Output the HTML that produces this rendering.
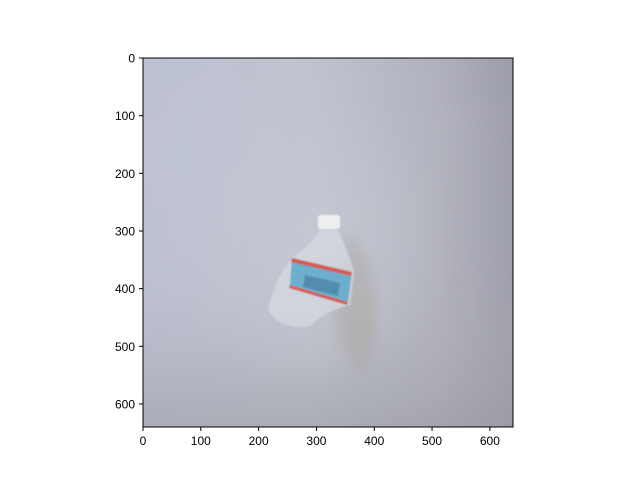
<!DOCTYPE html>
<html><head><meta charset="utf-8"><style>
body{margin:0;width:640px;height:480px;background:#fff;overflow:hidden;font-family:"Liberation Sans",sans-serif}
</style></head><body>
<svg width="640" height="480" viewBox="0 0 640 480">
<defs>
<linearGradient id="gx" x1="0" y1="0" x2="1" y2="0">
<stop offset="0" stop-color="#bcc1d3"/><stop offset="0.45" stop-color="#c0c3cf"/><stop offset="0.8" stop-color="#b0b1bc"/><stop offset="1" stop-color="#9c9da9"/>
</linearGradient>
<linearGradient id="gy" x1="0" y1="0" x2="0" y2="1">
<stop offset="0" stop-color="#fff" stop-opacity="0"/><stop offset="0.6" stop-color="#b8b8be" stop-opacity="0.1"/><stop offset="1" stop-color="#9a9aa0" stop-opacity="0.55"/>
</linearGradient>
<radialGradient id="glow" cx="0.45" cy="0.5" r="0.4">
<stop offset="0" stop-color="#c8cad4" stop-opacity="0.6"/><stop offset="1" stop-color="#c8cad4" stop-opacity="0"/>
</radialGradient>
<filter id="blur"><feGaussianBlur stdDeviation="7"/></filter>
<filter id="b1"><feGaussianBlur stdDeviation="0.7"/></filter>
</defs>
<g>
<rect x="143" y="58" width="370" height="369" fill="url(#gx)"/>
<rect x="143" y="58" width="370" height="369" fill="url(#gy)"/>
<rect x="143" y="58" width="370" height="369" fill="url(#glow)"/>
<path d="M345 232 C368 250 378 290 376 320 C374 345 368 365 360 375 C348 360 338 335 334 310 Z" fill="#9a9480" opacity="0.28" filter="url(#blur)"/>
<g filter="url(#b1)">
<path d="M320 229 L338 230 C345 245 352 262 354 272 L350 305 C330 310 318 318 310 326 C292 330 274 322 268 310 C272 292 280 272 292 258 C305 248 315 240 320 229 Z" fill="#d6d9e0" opacity="0.75"/>
<rect x="318" y="215" width="22" height="14" rx="3" fill="#eef0ef"/>
<path d="M292 258 L352 272 L348 302 L290 285 Z" fill="#5aa9cc" opacity="0.85"/>
<path d="M292 258 L352 272 L351 276 L291 262 Z" fill="#d55a50"/>
<path d="M290 285 L348 302 L347 305 L289 288 Z" fill="#d55a50"/>
<path d="M305 275 L340 283 L338 296 L303 287 Z" fill="#3a6a90" opacity="0.5"/>
</g>
</g>
<rect x="143" y="58" width="370" height="369" fill="none" stroke="#000" stroke-width="1"/>
<g id="xt"></g>
<g id="yt"></g>
</svg>
<script>
const xTicks=[0,100,200,300,400,500,600];
const yTicks=[0,100,200,300,400,500,600];
const ns="http://www.w3.org/2000/svg";
const sx=v=>143+v*370/640, sy=v=>58+v*369/640;
const xg=document.getElementById('xt'), yg=document.getElementById('yt');
xTicks.forEach(v=>{
 const l=document.createElementNS(ns,'line');
 
 
 l.setAttribute('x1',sx(v));l.setAttribute('x2',sx(v));l.setAttribute('y1',427);l.setAttribute('y2',431);l.setAttribute('stroke','#000');
 xg.appendChild(l);
 const t=document.createElementNS(ns,'text');
 
 
 t.setAttribute('x',sx(v));t.setAttribute('y',445);t.setAttribute('text-anchor','middle');t.setAttribute('font-size','12');
 t.textContent=v;xg.appendChild(t);
});
yTicks.forEach(v=>{
 const l=document.createElementNS(ns,'line');
 
 
 l.setAttribute('x1',139);l.setAttribute('x2',143);l.setAttribute('y1',sy(v));l.setAttribute('y2',sy(v));l.setAttribute('stroke','#000');
 yg.appendChild(l);
 const t=document.createElementNS(ns,'text');
 
 
 t.setAttribute('x',135);t.setAttribute('y',sy(v)+4.5);t.setAttribute('text-anchor','end');t.setAttribute('font-size','12');
 t.textContent=v;yg.appendChild(t);
});
</script>
</body></html>
